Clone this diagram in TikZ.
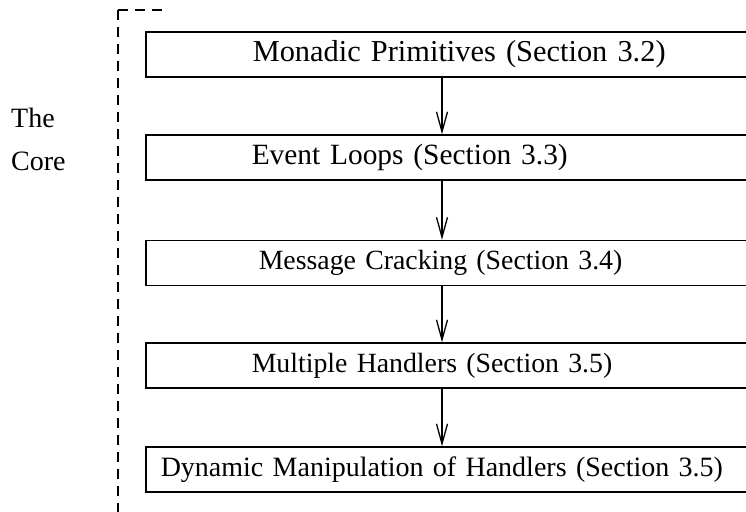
\documentclass[tikz,border=0pt]{standalone}
\usepackage{fontspec}
\setmainfont{Liberation Serif}
\usetikzlibrary{arrows.meta,positioning}

\tikzset{
  stage/.style = {draw, line width = 1.5pt, anchor = west, align = left,
    text width = 640pt, minimum height = 45pt, inner ysep = 0pt},
  flow/.style = {line width = 1.3pt, -{Straight Barb[length = 20pt, width = 11pt, line width = 1.3pt]}},
  corebound/.style = {line width = 1.4pt, dash pattern = on 10pt off 7pt}
}

\begin{document}
\begin{tikzpicture}[x = 1pt, y = -1pt, font = \fontsize{28}{34}\selectfont]
\useasboundingbox (0,0) rectangle (746,511);
\clip (0,0) rectangle (746,511);
% the five stages
\node[stage, inner xsep = 107pt, font = \fontsize{30.4}{36}\selectfont] (mon) at (145,54.5) {Monadic Primitives (Section 3.2)};
\node[stage, inner xsep = 106pt, font = \fontsize{29.4}{35}\selectfont] (evt) at (145,157.5) {Event Loops (Section 3.3)};
\node[stage, inner xsep = 113pt, font = \fontsize{27.8}{34}\selectfont] (msg) at (145,263) {Message Cracking (Section 3.4)};
\node[stage, inner xsep = 106pt, font = \fontsize{27.8}{34}\selectfont] (mul) at (145,365.5) {Multiple Handlers (Section 3.5)};
\node[stage, inner xsep = 15pt] (dyn) at (145,469.5) {Dynamic Manipulation of Handlers (Section 3.5)};
% arrows between stages
\coordinate (axis) at (442,0);
\foreach \a/\b in {mon/evt, evt/msg, msg/mul, mul/dyn}
  \draw[flow] (\a.south -| axis) -- (\b.north -| axis);
% the core bracket
\coordinate (corner) at (118,10);
\coordinate (topend) at (167,10);
\coordinate (botend) at (118,520);
\draw[corebound] (corner) -- (topend);
\draw[corebound] (corner) -- (botend);
\node[anchor = base west, inner sep = 0pt] (the) at (11,127) {The};
\node[anchor = base west, inner sep = 0pt] (core) at (11,170) {Core};
\end{tikzpicture}
\end{document}
